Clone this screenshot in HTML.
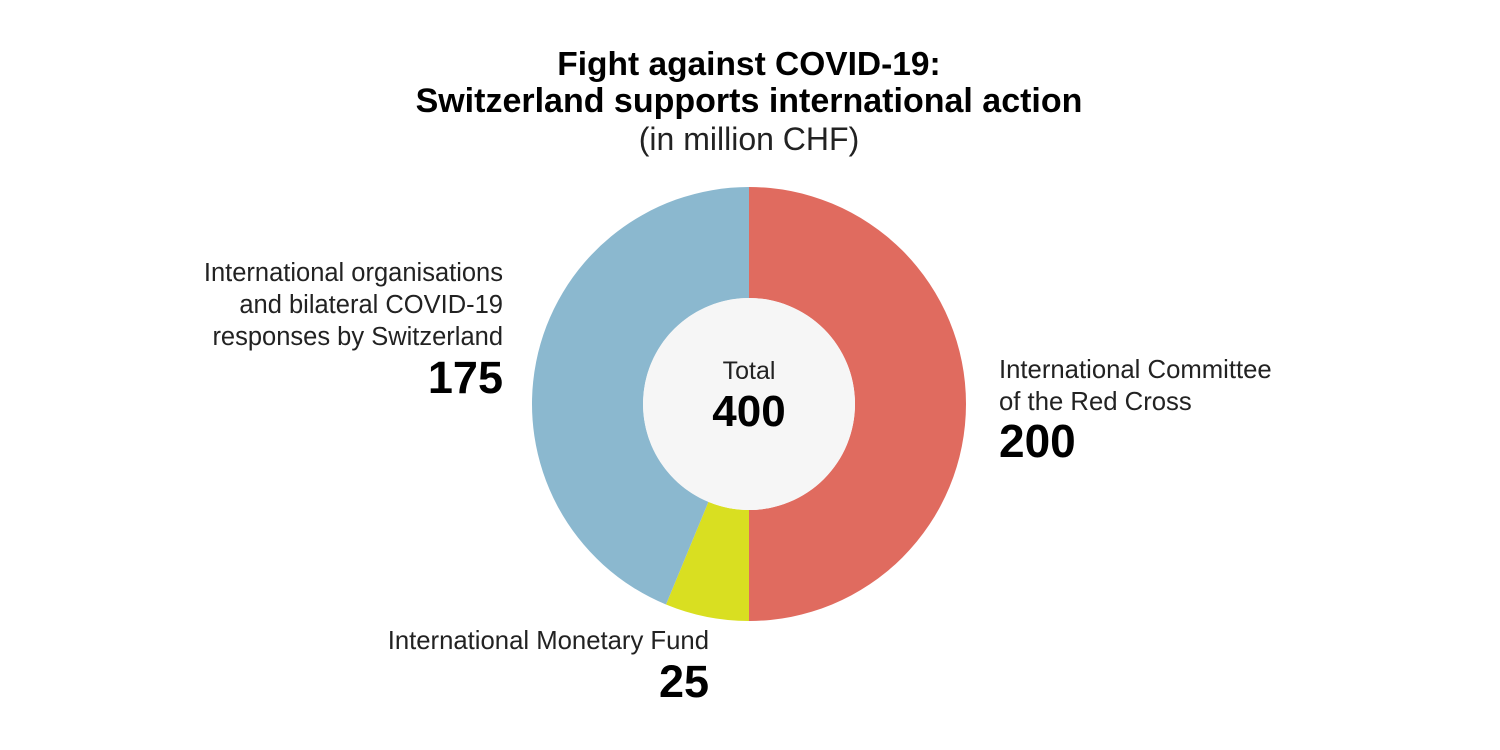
<!DOCTYPE html>
<html><head><meta charset="utf-8"><style>
html,body{margin:0;padding:0;background:#fff;width:1500px;height:750px;overflow:hidden}
</style></head><body>
<svg width="1500" height="750" xmlns="http://www.w3.org/2000/svg" font-family="Liberation Sans, sans-serif">
<text x="749" y="75" text-anchor="middle" font-size="33.5" font-weight="bold" fill="#000">Fight against COVID-19:</text>
<text x="749" y="112" text-anchor="middle" font-size="34" font-weight="bold" fill="#000">Switzerland supports international action</text>
<text x="749" y="150" text-anchor="middle" font-size="32" fill="#222">(in million CHF)</text>
<path d="M749,187 A217,217 0 0 1 749,621 L749,510 A106,106 0 0 0 749,298 Z" fill="#e06b5f"/>
<path d="M749,621 A217,217 0 0 1 666,604.5 L708.4,501.9 A106,106 0 0 0 749,510 Z" fill="#d9df21"/>
<path d="M666,604.5 A217,217 0 0 1 749,187 L749,298 A106,106 0 0 0 708.4,501.9 Z" fill="#8bb8cf"/>
<circle cx="749" cy="404" r="106" fill="#f6f6f6"/>
<text x="749" y="379" text-anchor="middle" font-size="25" fill="#222">Total</text>
<text x="749" y="426" text-anchor="middle" font-size="44" font-weight="bold" fill="#000">400</text>
<g font-size="25.5" fill="#222" text-anchor="end">
<text x="503" y="281">International organisations</text>
<text x="503" y="313">and bilateral COVID-19</text>
<text x="503" y="345">responses by Switzerland</text>
</g>
<text x="503" y="393" text-anchor="end" font-size="45" font-weight="bold" fill="#000">175</text>
<g font-size="25.7" fill="#222">
<text x="999" y="378">International Committee</text>
<text x="999" y="410">of the Red Cross</text>
</g>
<text x="999" y="457" font-size="46" font-weight="bold" fill="#000">200</text>
<text x="709" y="649" text-anchor="end" font-size="25.7" fill="#222">International Monetary Fund</text>
<text x="709" y="697" text-anchor="end" font-size="45" font-weight="bold" fill="#000">25</text>
</svg>
</body></html>
